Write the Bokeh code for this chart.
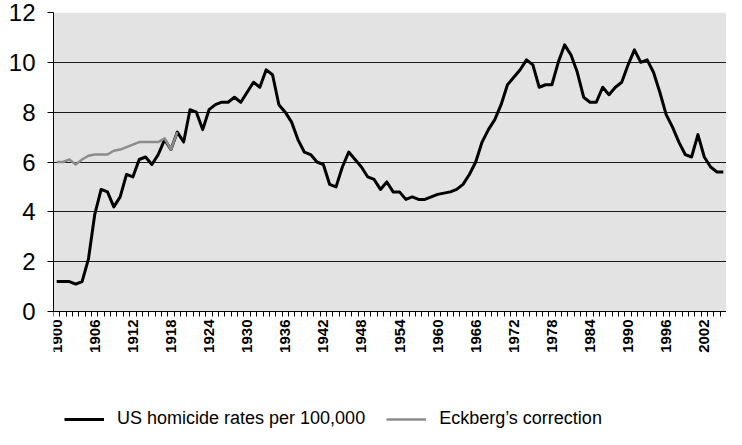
import math
from bokeh.plotting import figure
from bokeh.models import Range1d, FixedTicker, Legend, LegendItem, BoxAnnotation
from bokeh.embed import file_html
from bokeh.resources import INLINE

# ---- data ----
years = list(range(1900, 2006))
us_rates = [
    1.2, 1.2, 1.2, 1.1, 1.2, 2.1, 3.9, 4.9, 4.8, 4.2,
    4.6, 5.5, 5.4, 6.1, 6.2, 5.9, 6.3, 6.9, 6.5, 7.2,
    6.8, 8.1, 8.0, 7.3, 8.1, 8.3, 8.4, 8.4, 8.6, 8.4,
    8.8, 9.2, 9.0, 9.7, 9.5, 8.3, 8.0, 7.6, 6.9, 6.4,
    6.3, 6.0, 5.9, 5.1, 5.0, 5.8, 6.4, 6.1, 5.8, 5.4,
    5.3, 4.9, 5.2, 4.8, 4.8, 4.5, 4.6, 4.5, 4.5, 4.6,
    4.7, 4.75, 4.8, 4.9, 5.1, 5.5, 6.0, 6.8, 7.3, 7.7,
    8.3, 9.1, 9.4, 9.7, 10.1, 9.9, 9.0, 9.1, 9.1, 10.0,
    10.7, 10.3, 9.6, 8.6, 8.4, 8.4, 9.0, 8.7, 9.0, 9.2,
    9.9, 10.5, 10.0, 10.1, 9.6, 8.8, 7.9, 7.4, 6.8, 6.3,
    6.2, 7.1, 6.2, 5.8, 5.6, 5.6,
]
eck_years = list(range(1900, 1920))
eck_rates = [
    6.0, 6.0, 6.1, 5.9, 6.1, 6.25, 6.3, 6.3, 6.3, 6.45,
    6.5, 6.6, 6.7, 6.8, 6.8, 6.8, 6.8, 6.95, 6.5, 7.2,
]
tick_years = [1900, 1906, 1912, 1918, 1924, 1930, 1936, 1942, 1948,
              1954, 1960, 1966, 1972, 1978, 1984, 1990, 1996, 2002]
y_ticks = [0, 2, 4, 6, 8, 10, 12]
labels = ["US homicide rates per 100,000", "Eckberg\u2019s correction"]

FONT = "Liberation Sans"
W, H = 726, 429
TOP = 12          # px above the 12-line
ZERO_PX = 311     # px from top where the value 0 sits
Y_MAX = 12
px_per_unit = (ZERO_PX - TOP) / Y_MAX
y_start = -(H - ZERO_PX) / px_per_unit   # room below 0 for labels + legend

p = figure(width=W, height=H, output_backend="svg", toolbar_location=None,
           x_range=Range1d(years[0] - 0.5, years[-1] + 0.5),
           y_range=Range1d(y_start, Y_MAX),
           min_border_left=53, min_border_right=0, min_border_top=TOP,
           min_border_bottom=0)
p.background_fill_color = "white"
p.border_fill_color = "white"
p.outline_line_color = None

# grey plot area only between 0 and 12
p.add_layout(BoxAnnotation(bottom=0, top=Y_MAX, fill_color="#e3e3e3", fill_alpha=1,
                           line_color=None, level="image"))

p.xgrid.visible = False
p.ygrid.grid_line_color = "#1a1a1a"
p.ygrid.grid_line_width = 1

# y axis
p.yaxis.ticker = FixedTicker(ticks=y_ticks)
p.yaxis.bounds = (0, Y_MAX)
p.yaxis.major_label_text_font = FONT
p.yaxis.major_label_text_font_size = "24px"
p.yaxis.major_label_text_color = "black"
p.yaxis.axis_line_color = "black"
p.yaxis.major_tick_line_color = "black"
p.yaxis.major_tick_out = 6
p.yaxis.major_tick_in = 0
p.yaxis.minor_tick_line_color = None
p.yaxis.major_label_standoff = 12

# x axis, drawn at value 0
p.xaxis.fixed_location = 0
p.xaxis.ticker = FixedTicker(ticks=tick_years,
                             minor_ticks=[y - 0.5 for y in years] + [years[-1] + 0.5])
p.xaxis.major_tick_line_color = None
p.xaxis.major_tick_out = 5
p.xaxis.major_tick_in = 0
p.xaxis.minor_tick_line_color = "black"
p.xaxis.minor_tick_out = 5
p.xaxis.minor_tick_in = 0
p.xaxis.axis_line_color = "black"
p.xaxis.major_label_orientation = math.pi / 2
p.xaxis.major_label_text_font = FONT
p.xaxis.major_label_text_font_size = "15px"
p.xaxis.major_label_text_font_style = "bold"
p.xaxis.major_label_text_color = "black"
p.xaxis.major_label_standoff = 3

r1 = p.line(years, us_rates, line_color="black", line_width=3, line_join="round")
r2 = p.line(eck_years, eck_rates, line_color="#8c8c8c", line_width=2.5, line_join="round")

legend = Legend(items=[LegendItem(label=labels[0], renderers=[r1]),
                       LegendItem(label=labels[1], renderers=[r2])],
                orientation="horizontal", location=(11, 0),
                background_fill_alpha=0, border_line_color=None,
                label_text_font=FONT, label_text_font_size="18px",
                label_text_color="black",
                glyph_width=40, glyph_height=18, label_height=18,
                label_standoff=13, spacing=21,
                padding=0, margin=0)
p.add_layout(legend)

open("out.html", "w").write(file_html(p, INLINE))
